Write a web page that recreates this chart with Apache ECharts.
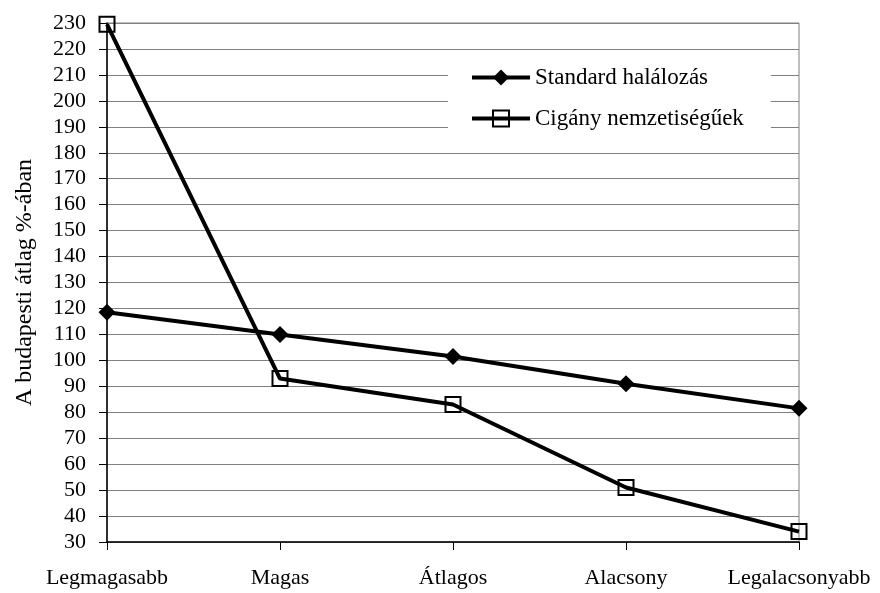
<!DOCTYPE html>
<html>
<head>
<meta charset="utf-8">
<script src="https://cdn.jsdelivr.net/npm/echarts@6/dist/echarts.min.js"></script>
<style>html,body{margin:0;padding:0;background:#fff;}#c{width:880px;height:593px;}</style>
</head>
<body>
<div id="c"></div>
<script>
var categories = ['Legmagasabb', 'Magas', 'Átlagos', 'Alacsony', 'Legalacsonyabb'];
var standardValues = [118.5, 110, 101.5, 91, 81.5];
var ciganyValues = [229.5, 93, 83, 51, 34];
var seriesNames = ['Standard halálozás', 'Cigány nemzetiségűek'];
var yAxisTitle = 'A budapesti átlag %-ában';
var yMin = 30, yMax = 230, yStep = 10;

var font = '"Liberation Serif", "Times New Roman", serif';
var chart = echarts.init(document.getElementById('c'), null, {renderer: 'canvas'});
chart.setOption({
  animation: false,
  backgroundColor: '#fff',
  grid: {left: 107, right: 81, top: 23, bottom: 51, show: true, borderColor: '#808080', borderWidth: 1, backgroundColor: 'transparent'},
  legend: {
    orient: 'vertical',
    left: 448,
    top: 57,
    backgroundColor: '#fff',
    padding: [9, 27, 6, 22],
    itemWidth: 58,
    itemHeight: 20,
    itemGap: 18,
    itemTextGap: 6,
    lineStyle: {width: 4},
    textStyle: {fontFamily: font, fontSize: 23, color: '#000'},
    data: seriesNames
  },
  xAxis: {
    type: 'category',
    data: categories,
    boundaryGap: false,
    axisLine: {lineStyle: {color: '#000', width: 1.5}},
    axisTick: {show: true, length: 8, lineStyle: {color: '#000'}},
    axisLabel: {fontFamily: font, fontSize: 22, color: '#000', margin: 25, interval: 0},
    splitLine: {show: false}
  },
  yAxis: {
    type: 'value',
    min: yMin, max: yMax, interval: yStep,
    name: yAxisTitle,
    nameLocation: 'middle',
    nameGap: 70,
    nameRotate: 90,
    nameTextStyle: {fontFamily: font, fontSize: 24, color: '#000'},
    axisLine: {show: true, lineStyle: {color: '#000', width: 1.5}},
    axisTick: {show: true, length: 8, lineStyle: {color: '#000'}},
    axisLabel: {fontFamily: font, fontSize: 22, color: '#000', margin: 21},
    splitLine: {show: true, lineStyle: {color: '#808080', width: 1}}
  },
  series: [
    {
      name: seriesNames[0],
      type: 'line',
      data: standardValues,
      symbol: 'diamond',
      symbolSize: [17, 17],
      lineStyle: {color: '#000', width: 4},
      itemStyle: {color: '#000'},
      z: 3
    },
    {
      name: seriesNames[1],
      type: 'line',
      data: ciganyValues,
      symbol: 'rect',
      symbolSize: 15,
      lineStyle: {color: '#000', width: 4},
      itemStyle: {color: 'rgba(255,255,255,0)', borderColor: '#000', borderWidth: 2},
      z: 3
    }
  ]
});
</script>
</body>
</html>
